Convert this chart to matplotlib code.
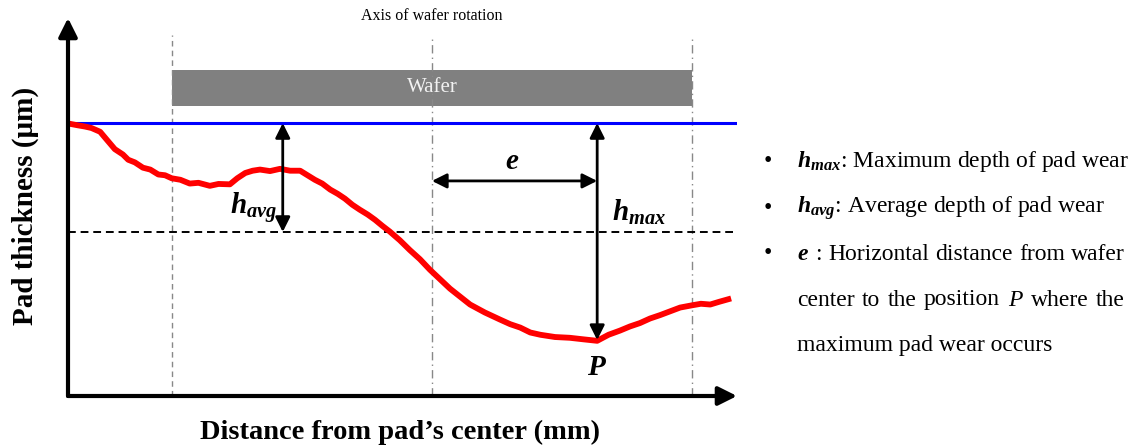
import matplotlib.pyplot as plt

plt.rcParams['font.family'] = ['Liberation Serif', 'DejaVu Serif']
plt.rcParams['mathtext.fontset'] = 'custom'
plt.rcParams['mathtext.rm'] = 'Liberation Serif'
plt.rcParams['mathtext.it'] = 'Liberation Serif:italic'
plt.rcParams['mathtext.bf'] = 'Liberation Serif:bold:italic'

# measured pad profile (distance from pad centre, thickness), arbitrary units
dist = [0.3, 1.5, 2.5, 3.5, 4.8, 5.8, 7.0, 8.2, 9.0, 10.0, 11.2, 12.3, 13.5, 14.5,
        15.5, 16.8, 18.2, 19.5, 21.2, 22.5, 24.2, 25.3, 26.5, 27.6, 28.7, 30.2,
        31.7, 33.2, 34.7, 35.8, 36.9, 38.0, 39.2, 40.3, 41.4, 42.5, 43.6, 44.8,
        45.9, 47.0, 48.1, 49.6, 51.1, 52.6, 54.1, 55.6, 57.1, 58.6, 60.1, 62.3,
        64.6, 66.1, 67.6, 69.1, 70.6, 72.8, 75.0, 77.0, 79.1, 80.8, 82.5, 84.0,
        85.5, 87.0, 88.5, 90.0, 91.5, 93.3, 94.6, 96.0, 97.3, 98.7]
thick = [72.0, 71.6, 71.3, 70.9, 69.9, 67.8, 65.3, 63.9, 62.5, 61.8, 60.4, 59.9,
         58.6, 58.4, 57.6, 57.2, 56.2, 56.4, 55.6, 56.1, 56.0, 57.6, 59.0, 59.6,
         59.9, 59.5, 60.1, 59.6, 59.6, 58.4, 57.2, 56.2, 54.6, 53.5, 52.2, 50.6,
         49.3, 48.0, 46.6, 45.0, 43.5, 41.2, 38.6, 36.2, 33.4, 30.9, 28.4, 26.3,
         24.2, 22.1, 20.2, 19.0, 18.1, 16.8, 16.2, 15.6, 15.4, 15.0, 14.6, 16.2,
         17.3, 18.4, 19.3, 20.5, 21.4, 22.4, 23.4, 24.0, 24.4, 24.2, 24.9, 25.6]

initial = 72.2      # initial pad thickness
avg_level = 43.4    # average worn level
wafer_left, wafer_center, wafer_right = 15.5, 54.4, 93.3
p_pos, p_val = 79.1, 14.8

W, H = 1145, 448
fig = plt.figure(figsize=(W / 100, H / 100), dpi=100)
ax = fig.add_axes([68 / W, (H - 396) / H, (737 - 68) / W, (396 - 18) / H])
ax.set_xlim(0, 100)
ax.set_ylim(0, 100)
ax.axis('off')

# axes with arrows
for xy in [(0, 100), (100, 0)]:
    ax.annotate('', xy=xy, xytext=(0, 0),
                arrowprops=dict(arrowstyle='-|>', lw=3, color='k',
                                mutation_scale=28, shrinkA=0, shrinkB=0),
                annotation_clip=False)

# wafer edges and rotation axis
ax.plot([wafer_left, wafer_left], [0, 95.5], color='#888888', lw=1, ls=(0, (4, 3)))
ax.plot([wafer_center, wafer_center], [0, 95.5], color='#888888', lw=1, ls=(0, (6, 3, 1, 3)))
ax.plot([wafer_right, wafer_right], [0, 95.5], color='#888888', lw=1, ls=(0, (6, 3, 1, 3)))

# wafer bar
ax.fill_between([wafer_left, wafer_right], 76.7, 86.2, color='#808080', lw=0)
ax.text(wafer_center, 81.5, 'Wafer', color='#f2f2f2', fontsize=15,
        ha='center', va='center')
ax.text(wafer_center, 100.5, 'Axis of wafer rotation', fontsize=11.5,
        ha='center', va='center')

ax.plot([0, 99.7], [initial, initial], color='#0000ff', lw=2.2)
ax.plot([0, 99.7], [avg_level, avg_level], color='k', lw=1.4, ls=(0, (4, 2.5)))

ax.plot(dist, thick, color='#ff0000', lw=4.2, solid_joinstyle='round')

arrow = dict(arrowstyle='<|-|>', lw=2, color='k', mutation_scale=22,
             shrinkA=0, shrinkB=0)
ax.annotate('', xy=(32.1, initial), xytext=(32.1, avg_level), arrowprops=arrow)
ax.annotate('', xy=(p_pos, initial), xytext=(p_pos, p_val), arrowprops=arrow)
ax.annotate('', xy=(wafer_center, 56.9), xytext=(p_pos, 56.9), arrowprops=arrow)

ax.text(31.3, 49.5, r'$\mathbf{h}_{\mathbf{avg}}$', fontsize=21, ha='right', va='center')
ax.text(81.3, 48.7, r'$\mathbf{h}_{\mathbf{max}}$', fontsize=21, ha='left', va='center')
ax.text(66.4, 61.8, r'$\mathbf{e}$', fontsize=21, ha='center', va='center')
ax.text(p_pos, 7.4, r'$\mathbf{P}$', fontsize=21, ha='center', va='center')

fig.text(25 / W, 1 - 206 / H, 'Pad thickness (μm)', fontsize=21, fontweight='bold',
         rotation=90, ha='center', va='center')
fig.text(400 / W, 1 - 432 / H, 'Distance from pad’s center (mm)', fontsize=20.5,
         fontweight='bold', ha='center', va='center')

# notes on the right; lines 3 and 4 are justified to the right edge
notes = [r'$\mathbf{h}_{\mathbf{max}}$: Maximum depth of pad wear',
         r'$\mathbf{h}_{\mathbf{avg}}$: Average depth of pad wear',
         r'$\mathbf{e}$ : Horizontal distance from wafer',
         r'center to the position $P$ where the',
         'maximum pad wear occurs']
rows = [162, 208, 254, 300, 345]
justify = [False, False, True, True, False]
left, right = 797, 1125
renderer = fig.canvas.get_renderer()
for i, (txt, r) in enumerate(zip(notes, rows)):
    y = 1 - r / H
    if i < 3:
        fig.text(768 / W, y, '•', fontsize=17, ha='center', va='center')
    if not justify[i]:
        fig.text(left / W, y, txt, fontsize=17, ha='left', va='center')
        continue
    words = txt.split(' ')
    items = [fig.text(0, y, w, fontsize=17, ha='left', va='center') for w in words]
    widths = [t.get_window_extent(renderer).width for t in items]
    gap = (right - left - sum(widths)) / (len(words) - 1)
    x = left
    for t, w in zip(items, widths):
        t.set_x(x / W)
        x += w + gap

fig.savefig('out.png', dpi=100)
